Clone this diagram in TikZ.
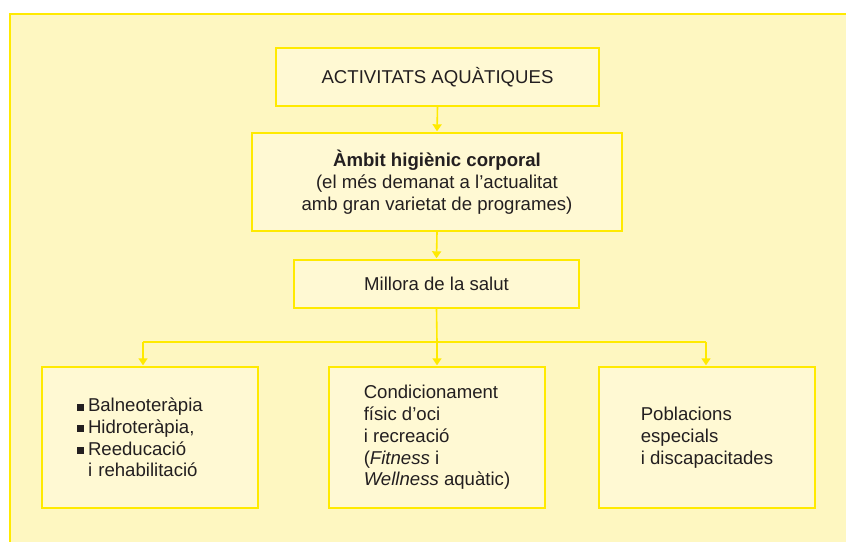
\documentclass[tikz,border=0pt]{standalone}
\usepackage{fontspec}
\setmainfont{Liberation Sans}
\usetikzlibrary{arrows.meta}
\definecolor{ybord}{HTML}{FFEA00}
\definecolor{ybg}{HTML}{FEF7C1}
\definecolor{ybox}{HTML}{FFF9D3}
\definecolor{ink}{HTML}{231F20}
\tikzset{
  box/.style={draw=ybord, fill=ybox, line width=1.4pt, inner sep=0pt, text=ink,
    font=\fontsize{18.6}{21.8}\selectfont, align=center},
  conn/.style={draw=ybord, line width=1.6pt, -{Triangle[length=7pt,width=9pt]}, shorten >=1pt},
  plain/.style={draw=ybord, line width=1.6pt}
}
\newcommand{\bul}{\rule[1pt]{7pt}{7pt}\hspace{4pt}}
\begin{document}
\begin{tikzpicture}[x=1pt,y=-1pt]
\useasboundingbox (0,0) rectangle (846,541);
\fill[white] (0,0) rectangle (846,541);
\draw[fill=ybg, draw=ybord, line width=1.6pt] (10,14) rectangle (860,560);
\node[box, minimum width=323pt, minimum height=58pt] (a) at (437.5,77) {ACTIVITATS AQUÀTIQUES};
\node[box, minimum width=370pt, minimum height=98pt] (b) at (437,182) {\textbf{Àmbit higiènic corporal}\\(el més demanat a l’actualitat\\amb gran varietat de programes)};
\node[box, minimum width=285pt, minimum height=48pt] (c) at (436.5,284) {Millora de la salut};
\node[box, minimum width=216pt, minimum height=141pt, align=left, inner xsep=35pt, text width=146pt] (d) at (150,437.5) {\bul Balneoteràpia\\\bul Hidroteràpia,\\\bul Reeducació\\\hspace*{11pt}i rehabilitació};
\node[box, minimum width=216pt, minimum height=141pt, align=left] (e) at (437,437.5) {Condicionament\\físic d’oci\\i recreació\\(\textit{Fitness} i\\\textit{Wellness} aquàtic)};
\node[box, minimum width=216pt, minimum height=141pt, align=left] (f) at (707,437.5) {Poblacions\\especials\\i discapacitades};
\coordinate (hub) at (437,342);
\coordinate (hl) at (143,342);
\coordinate (hr) at (706,342);
\draw[conn] (a.south) -- (b.north);
\draw[conn] (b.south) -- (c.north);
\draw[plain] (c.south) -- (hub);
\draw[plain] (hl) -- (hr);
\draw[conn] (hl) -- (hl |- d.north);
\draw[conn] (hub) -- (e.north);
\draw[conn] (hr) -- (hr |- f.north);
\end{tikzpicture}
\end{document}
